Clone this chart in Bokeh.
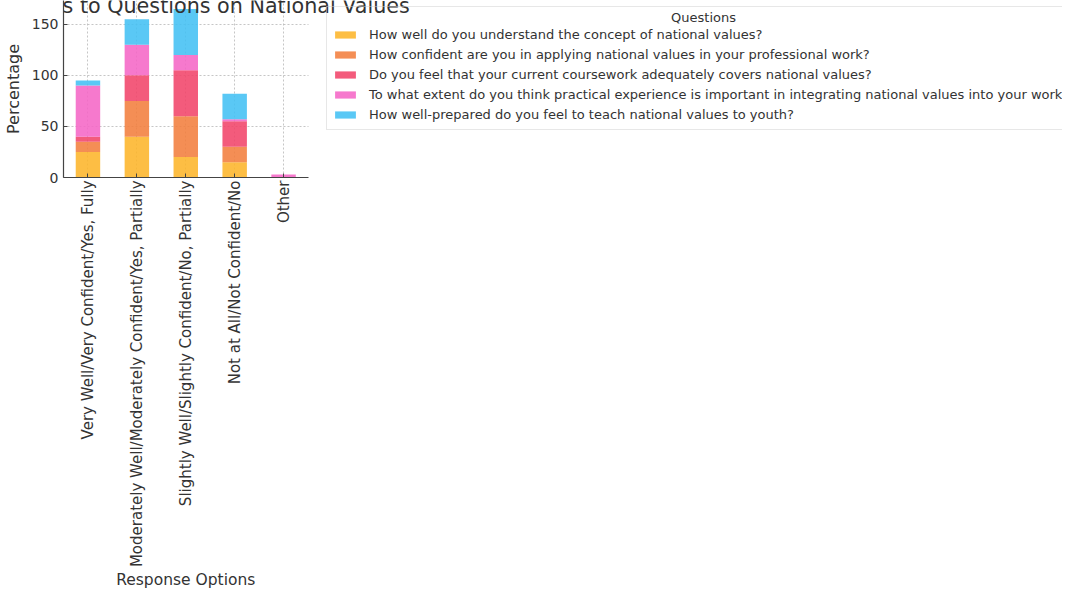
import math
from bokeh.plotting import figure
from bokeh.models import (ColumnDataSource, Legend, LegendItem, Label, FixedTicker, Range1d,
                          LinearAxis)
from bokeh.embed import file_html
from bokeh.resources import INLINE

# ---- data ----
categories = [
    "Very Well/Very Confident/Yes, Fully",
    "Moderately Well/Moderately Confident/Yes, Partially",
    "Slightly Well/Slightly Confident/No, Partially",
    "Not at All/Not Confident/No",
    "Other",
]
questions = [
    "How well do you understand the concept of national values?",
    "How confident are you in applying national values in your professional work?",
    "Do you feel that your current coursework adequately covers national values?",
    "To what extent do you think practical experience is important in integrating national values into your work?",
    "How well-prepared do you feel to teach national values to youth?",
]
q1_understand = [25, 40, 20, 15, 0]
q2_confident = [10, 35, 40, 15, 0]
q3_coursework = [5, 25, 45, 25, 0]
q4_practical = [50, 30, 15, 2, 3]
q5_prepared = [5, 25, 45, 25, 0]
y_ticks = [0, 50, 100, 150]
x_title = "Response Options"
y_title = "Percentage"
chart_title = "Responses to Questions on National Values"
legend_title = "Questions"

colors = ["#FDB52A", "#F27E3E", "#F1446A", "#F566C6", "#43C0F4"]
keys = ["q1", "q2", "q3", "q4", "q5"]

pos = list(range(len(categories)))
source = ColumnDataSource(dict(x=pos, q1=q1_understand, q2=q2_confident,
                               q3=q3_coursework, q4=q4_practical, q5=q5_prepared))

FONT = "DejaVu Sans"
TXT = "#333333"

W, H = 1062, 604
LEFT, BOTTOM = 57, 427
FRAME_W = W - LEFT
FRAME_H = H - BOTTOM
CAT_PX = 49.2                       # pixel width of one category slot
x_lo = -0.5
x_hi = x_lo + FRAME_W / CAT_PX       # categories occupy the left part of the frame
cat_bounds = (-0.5, len(categories) - 0.5)
mid = (len(categories) - 1) / 2

p = figure(x_range=Range1d(x_lo, x_hi), y_range=Range1d(0, 173.25),
           width=W, height=H, output_backend="svg", toolbar_location=None,
           min_border_left=LEFT, min_border_right=0, min_border_top=0,
           min_border_bottom=BOTTOM)
p.outline_line_color = None
p.background_fill_color = "white"
p.border_fill_color = "white"

renderers = p.vbar_stack(keys, x="x", width=0.5, source=source, color=colors,
                         fill_alpha=0.88, line_color=None)

# axes
p.xaxis.ticker = FixedTicker(ticks=pos)
p.xaxis.major_label_overrides = {i: c for i, c in zip(pos, categories)}
p.xaxis.bounds = cat_bounds
p.yaxis.ticker = FixedTicker(ticks=y_ticks)
for ax in (p.xaxis[0], p.yaxis[0]):
    ax.axis_line_color = "#444444"
    ax.axis_line_width = 1.2
    ax.major_tick_in = 4
    ax.major_tick_out = 0
    ax.major_tick_line_color = "#444444"
    ax.minor_tick_line_color = None
    ax.major_label_text_font = FONT
    ax.major_label_text_font_size = "15px"
    ax.major_label_text_color = TXT
    ax.axis_label_text_font = FONT
    ax.axis_label_text_font_style = "normal"
    ax.axis_label_text_color = TXT
    ax.axis_label_text_font_size = "16px"

p.xaxis.major_label_orientation = math.pi / 2
p.xaxis.major_label_standoff = 3
p.yaxis.axis_label = y_title
p.yaxis.major_label_text_font_size = "14px"
p.yaxis.major_label_standoff = 5
p.yaxis.axis_label_standoff = 6

# x-axis title, centred under the bars (second, label-only axis)
xlab = LinearAxis(ticker=FixedTicker(ticks=[mid]), major_label_overrides={mid: x_title},
                  axis_line_color=None, major_tick_line_color=None,
                  minor_tick_line_color=None, major_tick_in=0, major_tick_out=0,
                  major_label_standoff=0, major_label_orientation="horizontal",
                  major_label_text_font=FONT, major_label_text_font_size="15.5px",
                  major_label_text_color=TXT)
p.add_layout(xlab, "below")

# grid (only over the bar area)
grid_color = "#b8b8b8"
p.xgrid.grid_line_color = grid_color
p.xgrid.grid_line_dash = "2 2"
p.xgrid.grid_line_alpha = 0.8
ygrid = p.ygrid[0]
ygrid.cross_bounds = cat_bounds
ygrid.grid_line_color = grid_color
ygrid.grid_line_dash = "2 2"
ygrid.grid_line_alpha = 0.8

# legend
items = [LegendItem(label=q, renderers=[r]) for q, r in zip(questions, renderers)]
legend = Legend(items=items, location=(263, 47), title=" ",
                title_text_font_size="11px", title_standoff=0,
                label_text_font=FONT, label_text_font_size="13px", label_text_color=TXT,
                glyph_width=26, glyph_height=9, label_standoff=11, label_height=20,
                spacing=0, padding=5, margin=0,
                border_line_color="#d0d0d0", border_line_width=1,
                background_fill_color=None)
p.add_layout(legend)

p.add_layout(Label(x=640, y=FRAME_H - 17, x_units="screen", y_units="screen",
                   text=legend_title, level="overlay",
                   text_font=FONT, text_font_size="13px", text_color=TXT,
                   text_align="center", text_baseline="middle"))

# title (cut off at the top edge, as in the reference)
p.add_layout(Label(x=123, y=FRAME_H - 5, x_units="screen", y_units="screen",
                   text=chart_title, level="overlay",
                   text_font=FONT, text_font_size="20.7px", text_color=TXT,
                   text_align="center", text_baseline="alphabetic"))

open("out.html", "w").write(file_html(p, INLINE))
